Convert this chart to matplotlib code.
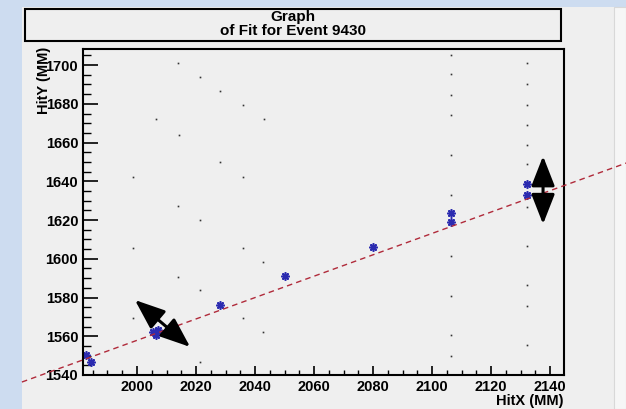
import matplotlib
matplotlib.use("Agg")
from matplotlib import pyplot as plt
from matplotlib.patches import Rectangle
from matplotlib.ticker import MultipleLocator
import numpy as np

# unused hits (small black dots)
dots_x = [2013.9, 2021.4, 2028.1, 2035.9, 2006.4, 2043.1, 2014.2, 2028.1, 1998.6, 2035.9,
          2013.9, 2021.4, 1998.6, 2035.9, 2042.7, 2013.9, 2021.4, 1998.6, 2035.9, 2042.7,
          2021.4,
          2106.4, 2106.4, 2106.4, 2106.4, 2106.4, 2106.4, 2106.4, 2106.4, 2106.4, 2106.4,
          2132.2, 2132.2, 2132.2, 2132.2, 2132.2, 2132.2, 2132.2, 2132.2, 2132.2, 2132.2, 2132.2]
dots_y = [1701.0, 1693.8, 1686.6, 1679.4, 1672.1, 1672.1, 1663.9, 1649.9, 1642.2, 1642.2,
          1627.2, 1620.0, 1605.5, 1605.5, 1598.3, 1590.6, 1583.9, 1569.4, 1569.4, 1562.2,
          1546.7,
          1705.2, 1695.4, 1684.5, 1674.2, 1653.5, 1632.9, 1601.4, 1580.8, 1560.6, 1549.8,
          1701.0, 1690.2, 1679.4, 1669.0, 1658.7, 1648.9, 1626.7, 1606.6, 1586.5, 1575.6, 1555.5]

# hits used in the fit (blue stars)
hits_x = [1982.7, 1984.4, 2005.4, 2006.4, 2007.1, 2028.1, 2050.2, 2080.0,
          2106.4, 2106.4, 2132.2, 2132.2]
hits_y = [1550.3, 1546.7, 1562.2, 1560.6, 1563.2, 1576.1, 1591.1, 1606.1,
          1623.6, 1619.0, 1638.6, 1632.9]

# straight line fit y = p0 + p1*(x - 2000)
fit_p0 = 1557.9
fit_p1 = 0.552
fit_range = [1961.0, 2166.0]

# double arrows drawn on the picture
arrow_a = [(1999.3, 1578.7), (2018.0, 1554.5)]
arrow_b = [(2137.6, 1653.0), (2137.6, 1617.9)]

xticks = list(range(2000, 2141, 20))
yticks = list(range(1540, 1701, 20))

fig = plt.figure(figsize=(6.26, 4.09), dpi=100)
fig.patch.set_facecolor("#cddcf0")

# grey canvas
fig.patches.append(Rectangle((22/626, 0), 592/626, 402/409, transform=fig.transFigure,
                             facecolor="#efefef", edgecolor="none", zorder=-3))
fig.patches.append(Rectangle((614/626, 0), 12/626, 402/409, transform=fig.transFigure,
                             facecolor="#f6f6f6", edgecolor="#d8d8d8", lw=0.8, zorder=-3))

# title box
fig.patches.append(Rectangle((25/626, 1 - 41/409), 536/626, 32/409, transform=fig.transFigure,
                             facecolor="#efefef", edgecolor="black", lw=1.5, zorder=-2))
fig.text(293/626, 1 - 24/409, "Graph\nof Fit for Event 9430", ha="center", va="center",
         fontsize=11, fontweight="bold", family="Liberation Sans", linespacing=1.05)

ax = fig.add_axes([83/626, 1 - 375/409, 481/626, 326/409])
ax.set_zorder(2)
ax.set_facecolor("#efefef")
ax.set_xlim(1981.7, 2144.7)
ax.set_ylim(1540, 1708.3)
for s in ax.spines.values():
    s.set_linewidth(1.5)

ax.set_xticks(xticks)
ax.set_yticks(yticks)
ax.xaxis.set_minor_locator(MultipleLocator(5))
ax.yaxis.set_minor_locator(MultipleLocator(5))
ax.tick_params(axis="x", which="major", direction="in", length=6.5, width=1.2, pad=3.5)
ax.tick_params(axis="x", which="minor", direction="in", length=3.3, width=1.0)
ax.tick_params(axis="y", which="major", direction="in", length=11, width=1.2, pad=3.5)
ax.tick_params(axis="y", which="minor", direction="in", length=5.5, width=1.0)
for lab in ax.get_xticklabels() + ax.get_yticklabels():
    lab.set_fontfamily("Liberation Sans")
    lab.set_fontweight("bold")
    lab.set_fontsize(10.5)

ax.plot(dots_x, dots_y, linestyle="none", marker="s", markersize=1.2,
        color="#333333", markeredgewidth=0)
ax.plot(hits_x, hits_y, linestyle="none", marker=(8, 2, 0), markersize=6,
        color="#2b2bb0", markeredgewidth=1.2)

fx = np.linspace(fit_range[0], fit_range[1], 50)
ax.plot(fx, fit_p0 + fit_p1 * (fx - 2000), color="#b02a3a", lw=1.0,
        dashes=(4, 3), clip_on=False, zorder=3)

for (x0, y0), (x1, y1) in [arrow_a, arrow_b]:
    ax.annotate("", xy=(x1, y1), xytext=(x0, y0), annotation_clip=False,
                arrowprops=dict(arrowstyle="<|-|>,head_length=0.92,head_width=0.36",
                                mutation_scale=20, lw=2.2, color="black",
                                shrinkA=0, shrinkB=0), zorder=5)

fig.text(44/626, 1 - 47/409, "HitY (MM)", rotation=90, ha="center", va="top",
         fontsize=10.5, fontweight="bold", family="Liberation Sans")
fig.text(563/626, 1 - 401/409, "HitX (MM)", ha="right", va="center",
         fontsize=10.5, fontweight="bold", family="Liberation Sans")

fig.savefig("out.png", dpi=100, facecolor=fig.get_facecolor())
